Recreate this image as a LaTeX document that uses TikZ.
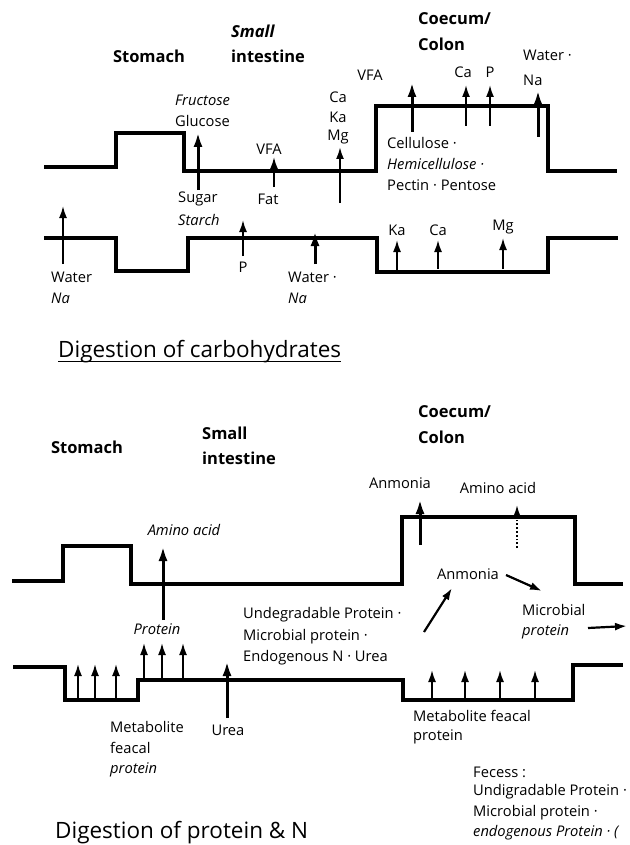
\documentclass[tikz,border=0pt]{standalone}
\usepackage{fontspec}
\setmainfont{Open Sans}
\usetikzlibrary{arrows.meta}
\newcommand\uparr[5]{\coordinate (#1s) at (#3,#4); \coordinate (#1e) at (#3,#5); \draw[#2] (#1s) -- (#1e);}
\begin{document}
\begin{tikzpicture}[x=1pt,y=-1pt,
  gut/.style={line width=3.2pt, line join=miter},
  lbl/.style={inner sep=0pt, font=\fontsize{14.7}{16}\selectfont},
  ilbl/.style={lbl, font=\fontsize{14.7}{16}\selectfont\itshape},
  ttl/.style={inner sep=0pt, font=\fontsize{16.5}{19}\selectfont\bfseries},
  captext/.style={inner sep=0pt, font=\fontsize{22.5}{26}\selectfont},
  thinar/.style={line width=1.8pt, -{Latex[length=12pt,width=8pt]}},
  thickar/.style={line width=3pt, -{Latex[length=15pt,width=9pt]}},
  ]
\useasboundingbox (0,0) rectangle (629,845);
\clip (0,0) rectangle (629,845);

% ---------------- carbohydrates ----------------
\draw[gut] (44,167) -- (116,167) -- (116,133) -- (184,133) -- (184,171) -- (376,171) -- (376,106) -- (548,106) -- (548,171) -- (617,171);
\draw[gut] (44,238) -- (116,238) -- (116,271) -- (188,271) -- (188,238) -- (377,238) -- (377,272) -- (548,272) -- (548,238) -- (618,238);

\node[ttl] (st1) at (149,56) {Stomach};
\node[ttl,anchor=west] (si1a) at (231,31) {\itshape Small};
\node[ttl,anchor=west] (si1b) at (231,56) {intestine};
\node[ttl,anchor=west] (co1a) at (418,19) {Coecum/};
\node[ttl,anchor=west] (co1b) at (418,44) {Colon};

\node[ilbl,anchor=west] (fru) at (175,100) {Fructose};
\node[lbl,anchor=west] (glu) at (175,121) {Glucose};
\node[lbl,anchor=west] (sug) at (178,199) {Sugar};
\node[ilbl,anchor=west] (sta) at (178,220) {Starch};
\uparr{a1}{thickar}{198}{190}{132}

\node[lbl] (vfa1) at (269,149) {VFA};
\node[lbl] (fat) at (268,199) {Fat};
\uparr{a2}{thinar}{274}{187}{157}

\node[lbl] (ca1) at (338,97) {Ca};
\node[lbl] (ka1) at (338,117) {Ka};
\node[lbl] (mg1) at (338,137) {Mg};
\uparr{a3}{thinar,line width=2pt}{340}{203}{147}

\node[lbl] (vfa2) at (370,75) {VFA};
\uparr{a4}{thickar}{412}{132}{82}

\node[lbl,anchor=west] (cel) at (387,143) {Cellulose ·};
\node[ilbl,anchor=west] (hem) at (387,164) {Hemicellulose ·};
\node[lbl,anchor=west] (pec) at (387,185) {Pectin · Pentose};

\node[lbl] (ca2) at (463,72) {Ca};
\uparr{a5}{thinar}{466}{126}{85}
\node[lbl] (p1) at (490,72) {P};
\uparr{a6}{thinar}{490}{126}{85}

\node[lbl,anchor=west] (wat1) at (523,55) {Water ·};
\node[lbl,anchor=west] (na1) at (523,80) {Na};
\uparr{a7}{thickar}{538}{137}{90}

\node[lbl,anchor=west] (wat2) at (51,277) {Water};
\node[ilbl,anchor=west] (na2) at (51,298) {Na};
\uparr{a8}{thinar}{63}{264}{206}

\node[lbl] (p2) at (243,267) {P};
\uparr{a9}{thinar}{243}{256}{220}

\node[lbl,anchor=west] (wat3) at (288,277) {Water ·};
\node[ilbl,anchor=west] (na3) at (288,298) {Na};
\uparr{a10}{thickar}{315}{264}{231}

\node[lbl] (ka2) at (397,230) {Ka};
\uparr{a11}{thinar}{397}{270}{240}
\node[lbl] (ca3) at (438,230) {Ca};
\uparr{a12}{thinar}{438}{269}{240}
\node[lbl] (mg2) at (503,227) {Mg};
\uparr{a13}{thinar}{503}{269}{238}

\node[captext,anchor=base west] (cap1) at (58,357) {Digestion of carbohydrates};
\draw[line width=1pt] ([yshift=-4pt]cap1.base west) -- ([yshift=-4pt]cap1.base east);

% ---------------- protein ----------------
\draw[gut] (12,581) -- (63,581) -- (63,546) -- (131,546) -- (131,584) -- (402,584) -- (402,517) -- (575,517) -- (575,584) -- (623,584);
\draw[gut] (13,667) -- (65,667) -- (65,700) -- (138,700) -- (138,680) -- (403,680) -- (403,700) -- (573,700) -- (573,665) -- (623,665);

\node[ttl] (st2) at (87,447) {Stomach};
\node[ttl,anchor=west] (si2a) at (202,433) {Small};
\node[ttl,anchor=west] (si2b) at (202,458) {intestine};
\node[ttl,anchor=west] (co2a) at (418,412) {Coecum/};
\node[ttl,anchor=west] (co2b) at (418,437) {Colon};

\node[ilbl] (aa1) at (184,530) {Amino acid};
\node[ilbl] (prot1) at (157,629) {Protein};
\uparr{b1}{thickar}{163}{620}{546}

\node[lbl] (anm1) at (400,483) {Anmonia};
\uparr{b2}{thickar}{420}{545}{499}
\node[lbl] (aa2) at (498,488) {Amino acid};
\coordinate (b3s) at (517,548); \coordinate (b3e) at (517,505);
\draw[line width=1.8pt, dotted, -{Latex[length=12pt,width=8pt]}] (b3s) -- (b3e);

\node[lbl] (anm2) at (468,574) {Anmonia};
\coordinate (b4s) at (506,575); \coordinate (b4e) at (542,591);
\draw[thinar,line width=2.2pt] (b4s) -- (b4e);
\coordinate (b5s) at (424,632); \coordinate (b5e) at (452,588);
\draw[thinar,line width=2.2pt] (b5s) -- (b5e);

\node[lbl,anchor=west] (mic1) at (522,610) {Microbial};
\node[ilbl,anchor=west] (mic2) at (522,632) {protein};
\coordinate (b6s) at (588,628); \coordinate (b6e) at (627,626);
\draw[thinar,line width=2.2pt] (b6s) -- (b6e);

\node[lbl,anchor=west] (und1) at (243,615) {Undegradable Protein ·};
\node[lbl,anchor=west] (und2) at (243,637) {Microbial protein ·};
\node[lbl,anchor=west] (und3) at (243,658) {Endogenous N · Urea};

\uparr{c1}{thinar}{78}{700}{664}
\uparr{c2}{thinar}{95}{700}{664}
\uparr{c3}{thinar}{116}{700}{664}
\uparr{c4}{thinar}{144}{680}{643}
\uparr{c5}{thinar}{162}{680}{643}
\uparr{c6}{thinar}{183}{680}{643}
\uparr{c7}{thickar}{227}{718}{661}
\node[lbl] (urea) at (228,730) {Urea};

\node[lbl,anchor=west] (met1) at (110,727) {Metabolite};
\node[lbl,anchor=west] (met2) at (110,748) {feacal};
\node[ilbl,anchor=west] (met3) at (110,770) {protein};

\uparr{d1}{thinar}{432}{700}{670}
\uparr{d2}{thinar}{465}{700}{670}
\uparr{d3}{thinar}{500}{700}{670}
\uparr{d4}{thinar}{535}{700}{670}
\node[lbl,anchor=west] (met4) at (413,716) {Metabolite feacal};
\node[lbl,anchor=west] (met5) at (413,737) {protein};

\node[lbl,anchor=west] (fec1) at (473,772) {Fecess :};
\node[lbl,anchor=west] (fec2) at (473,792) {Undigradable Protein ·};
\node[lbl,anchor=west] (fec3) at (473,813) {Microbial protein ·};
\node[ilbl,anchor=west] (fec4) at (473,833) {endogenous Protein · (};

\node[captext,anchor=base west] (cap2) at (55,838) {Digestion of protein \& N};
\end{tikzpicture}
\end{document}
